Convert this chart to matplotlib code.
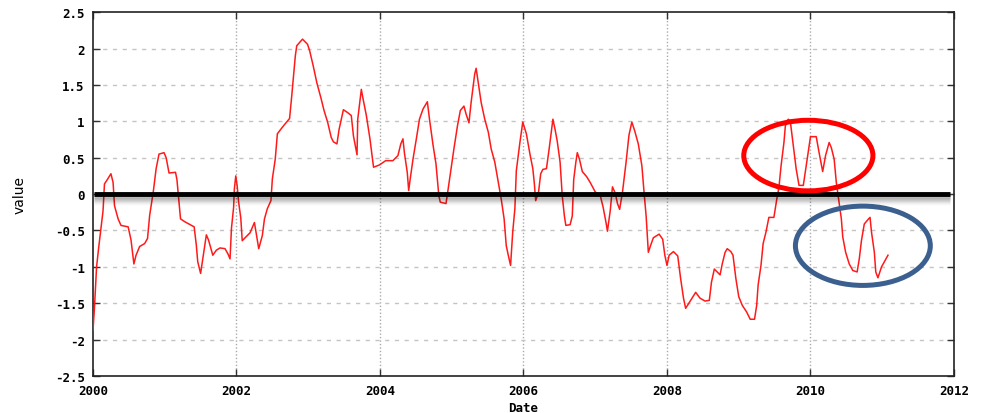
import matplotlib
matplotlib.use("Agg")
import matplotlib.pyplot as plt
import matplotlib.patheffects as pe
from matplotlib.patches import Ellipse

# Series: decimal year and value
dates = [
    2000.00, 2000.02, 2000.05, 2000.08, 2000.11, 2000.14, 2000.16, 2000.20, 2000.25, 2000.28,
    2000.30, 2000.35, 2000.39, 2000.49, 2000.53, 2000.57, 2000.60, 2000.65, 2000.72, 2000.76,
    2000.79, 2000.84, 2000.88, 2000.92, 2000.99, 2001.02, 2001.06, 2001.15, 2001.17, 2001.22,
    2001.28, 2001.41, 2001.44, 2001.46, 2001.50, 2001.53, 2001.58, 2001.61, 2001.67, 2001.72,
    2001.77, 2001.84, 2001.88, 2001.91, 2001.93, 2001.96, 2001.97, 2001.99, 2002.01, 2002.03,
    2002.06, 2002.08, 2002.13, 2002.19, 2002.25, 2002.28, 2002.31, 2002.36, 2002.39, 2002.43,
    2002.48, 2002.50, 2002.54, 2002.57, 2002.64, 2002.74, 2002.77, 2002.82, 2002.84, 2002.92,
    2002.99, 2003.02, 2003.07, 2003.12, 2003.18, 2003.22, 2003.27, 2003.32, 2003.35, 2003.40,
    2003.43, 2003.49, 2003.55, 2003.60, 2003.63, 2003.68, 2003.69, 2003.74, 2003.76, 2003.81,
    2003.86, 2003.91, 2003.99, 2004.08, 2004.18, 2004.25, 2004.29, 2004.32, 2004.34, 2004.38,
    2004.40, 2004.42, 2004.46, 2004.51, 2004.55, 2004.60, 2004.66, 2004.69, 2004.74, 2004.78,
    2004.82, 2004.84, 2004.92, 2004.95, 2004.99, 2005.03, 2005.08, 2005.12, 2005.17, 2005.20,
    2005.24, 2005.27, 2005.32, 2005.34, 2005.37, 2005.41, 2005.46, 2005.51, 2005.55, 2005.60,
    2005.65, 2005.69, 2005.73, 2005.76, 2005.79, 2005.82, 2005.85, 2005.88, 2005.90, 2005.95,
    2005.99, 2006.04, 2006.09, 2006.13, 2006.15, 2006.17, 2006.21, 2006.24, 2006.27, 2006.32,
    2006.36, 2006.41, 2006.44, 2006.47, 2006.51, 2006.54, 2006.57, 2006.59, 2006.65, 2006.68,
    2006.70, 2006.73, 2006.75, 2006.78, 2006.82, 2006.88, 2006.93, 2007.00, 2007.07, 2007.11,
    2007.15, 2007.17, 2007.21, 2007.24, 2007.28, 2007.31, 2007.34, 2007.38, 2007.43, 2007.47,
    2007.51, 2007.55, 2007.60, 2007.65, 2007.68, 2007.71, 2007.74, 2007.77, 2007.81, 2007.89,
    2007.94, 2007.97, 2008.00, 2008.03, 2008.09, 2008.15, 2008.19, 2008.23, 2008.26, 2008.33,
    2008.40, 2008.46, 2008.53, 2008.59, 2008.62, 2008.66, 2008.69, 2008.74, 2008.77, 2008.81,
    2008.84, 2008.89, 2008.92, 2008.96, 2009.00, 2009.05, 2009.11, 2009.16, 2009.22, 2009.25,
    2009.27, 2009.31, 2009.34, 2009.38, 2009.42, 2009.49, 2009.53, 2009.56, 2009.59, 2009.63,
    2009.65, 2009.69, 2009.72, 2009.76, 2009.80, 2009.84, 2009.90, 2009.94, 2009.98, 2010.00,
    2010.08, 2010.12, 2010.17, 2010.21, 2010.26, 2010.29, 2010.33, 2010.36, 2010.40, 2010.43,
    2010.45, 2010.49, 2010.54, 2010.59, 2010.65, 2010.68, 2010.71, 2010.75, 2010.81, 2010.83,
    2010.85, 2010.89, 2010.91, 2010.94, 2010.99, 2011.04, 2011.08,
]
values = [
    -1.87, -1.57, -1.00, -0.73, -0.48, -0.23, 0.14, 0.20, 0.28, 0.16,
    -0.16, -0.34, -0.43, -0.45, -0.63, -0.96, -0.84, -0.72, -0.68, -0.61,
    -0.29, 0.03, 0.35, 0.55, 0.57, 0.50, 0.29, 0.30, 0.20, -0.34,
    -0.38, -0.45, -0.70, -0.93, -1.09, -0.89, -0.56, -0.63, -0.84, -0.77,
    -0.74, -0.75, -0.82, -0.89, -0.47, -0.18, 0.07, 0.25, 0.11, -0.11,
    -0.33, -0.64, -0.59, -0.53, -0.39, -0.57, -0.75, -0.57, -0.34, -0.20,
    -0.09, 0.21, 0.48, 0.83, 0.92, 1.04, 1.35, 1.90, 2.04, 2.13,
    2.06, 1.97, 1.76, 1.53, 1.31, 1.15, 0.99, 0.78, 0.72, 0.69,
    0.89, 1.16, 1.12, 1.08, 0.80, 0.54, 1.03, 1.44, 1.33, 1.08,
    0.76, 0.37, 0.40, 0.46, 0.46, 0.53, 0.69, 0.76, 0.57, 0.30,
    0.05, 0.20, 0.48, 0.78, 1.03, 1.17, 1.27, 1.03, 0.67, 0.42,
    -0.02, -0.11, -0.13, 0.07, 0.35, 0.62, 0.94, 1.15, 1.21, 1.10,
    0.98, 1.26, 1.65, 1.73, 1.53, 1.26, 1.03, 0.85, 0.62, 0.44,
    0.16, -0.07, -0.34, -0.71, -0.85, -0.98, -0.52, -0.20, 0.32, 0.71,
    0.99, 0.83, 0.55, 0.35, 0.16, -0.09, 0.03, 0.28, 0.34, 0.35,
    0.64, 1.03, 0.89, 0.73, 0.44, -0.02, -0.30, -0.43, -0.42, -0.30,
    0.20, 0.44, 0.57, 0.48, 0.31, 0.24, 0.16, 0.03, -0.02, -0.18,
    -0.39, -0.51, -0.22, 0.10, 0.01, -0.13, -0.21, 0.03, 0.44, 0.81,
    0.99, 0.87, 0.69, 0.39, 0.03, -0.31, -0.80, -0.71, -0.60, -0.55,
    -0.62, -0.84, -0.98, -0.84, -0.79, -0.85, -1.16, -1.43, -1.57, -1.46,
    -1.35, -1.43, -1.47, -1.46, -1.21, -1.03, -1.06, -1.11, -0.96, -0.80,
    -0.75, -0.79, -0.84, -1.16, -1.41, -1.53, -1.62, -1.72, -1.72, -1.53,
    -1.25, -0.98, -0.68, -0.52, -0.32, -0.32, -0.07, 0.09, 0.39, 0.71,
    0.94, 1.03, 0.99, 0.67, 0.35, 0.12, 0.12, 0.39, 0.67, 0.79,
    0.79, 0.57, 0.31, 0.53, 0.71, 0.64, 0.48, 0.16, -0.13, -0.34,
    -0.59, -0.80, -0.96, -1.05, -1.07, -0.89, -0.64, -0.41, -0.34, -0.32,
    -0.52, -0.80, -1.07, -1.15, -1.00, -0.91, -0.84,
]

x_ticks = [2000, 2002, 2004, 2006, 2008, 2010, 2012]
x_tick_labels = ["2000", "2002", "2004", "2006", "2008", "2010", "2012"]
y_ticks = [-2.5, -2, -1.5, -1, -0.5, 0, 0.5, 1, 1.5, 2, 2.5]
y_tick_labels = ["-2.5", "-2", "-1.5", "-1", "-0.5", "0", "0.5", "1", "1.5", "2", "2.5"]

mono = "DejaVu Sans Mono"

fig = plt.figure(figsize=(9.84, 4.14), dpi=100)
ax = fig.add_axes([0.0945, 0.0894, 0.875, 0.8786])

ax.set_xlim(2000, 2012)
ax.set_ylim(-2.5, 2.5)

# grid: dotted verticals, dashed horizontals
for xt in x_ticks[1:-1]:
    ax.axvline(xt, color="#aaaaaa", lw=1.0, ls=(0, (1, 1.5)), zorder=1)
for yt in y_ticks[1:-1]:
    ax.axhline(yt, color="#c4c4c4", lw=1.0, ls=(0, (3, 4)), zorder=1)

ax.plot(dates, values, color="#ff1a1a", lw=1.1, zorder=3)

# zero reference line with a soft, fading drop shadow
shadow = [pe.SimpleLineShadow(offset=(0, -1.0 - 0.8 * i), shadow_color="#000000",
                              alpha=0.09 * (1 - i / 8), linewidth=3.5) for i in range(8)]
ax.plot([2000.02, 2011.95], [0, 0], color="black", lw=3.5, zorder=4,
        solid_capstyle="butt", path_effects=shadow + [pe.Normal()])

# highlight ellipses
ax.add_patch(Ellipse((2009.97, 0.53), 1.80, 0.97, fill=False,
                     edgecolor="#ff0000", lw=3.6, zorder=5))
ax.add_patch(Ellipse((2010.73, -0.71), 1.88, 1.09, fill=False,
                     edgecolor="#3b5f8e", lw=3.6, zorder=5))

ax.set_xticks(x_ticks)
ax.set_xticklabels(x_tick_labels, fontfamily=mono, fontweight="bold", fontsize=9)
ax.set_yticks(y_ticks)
ax.set_yticklabels(y_tick_labels, fontfamily=mono, fontweight="bold", fontsize=9)
ax.tick_params(direction="in", length=5, width=1, top=True, right=True,
               color="#333333", pad=6)

for side in ["left", "bottom", "top", "right"]:
    ax.spines[side].set_color("#222222")
    ax.spines[side].set_linewidth(1.2)

ax.set_xlabel("Date", fontfamily=mono, fontweight="bold", fontsize=9, labelpad=3)
ax.set_ylabel("value", fontfamily="Liberation Sans Narrow", fontsize=10, labelpad=20)

fig.savefig("out.png", dpi=100)
